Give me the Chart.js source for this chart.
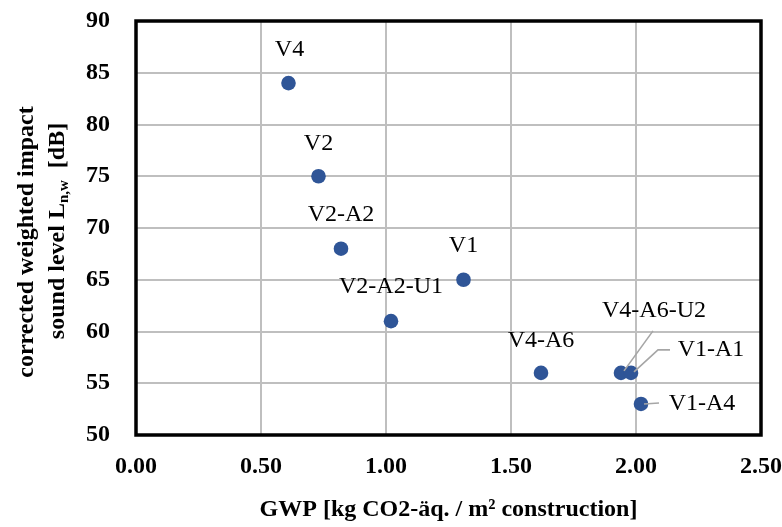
<!DOCTYPE html>
<html>
<head>
<meta charset="utf-8">
<script src="https://cdn.jsdelivr.net/npm/chart.js@4/dist/chart.umd.min.js"></script>
<style>
  html, body { margin: 0; padding: 0; background: #fff; }
  canvas { display: block; }
</style>
</head>
<body>
<canvas id="c" width="782" height="527"></canvas>
<script>
// ---- data ----
const variantNames = ['V4', 'V2', 'V2-A2', 'V2-A2-U1', 'V1', 'V4-A6', 'V4-A6-U2', 'V1-A1', 'V1-A4'];
const gwpValues = [0.61, 0.73, 0.82, 1.02, 1.31, 1.62, 1.94, 1.98, 2.02];
const soundLevels = [84, 75, 68, 61, 65, 56, 56, 56, 53];
const xTickValues = [0, 0.5, 1.0, 1.5, 2.0, 2.5];
const yTickValues = [50, 55, 60, 65, 70, 75, 80, 85, 90];
const xTitle = 'GWP [kg CO2-äq. / m² construction]';
const yTitleLine1 = 'corrected weighted impact';
const yTitleLine2 = ['sound level L', 'n,w', '  [dB]'];

// ---- label styling (offsets in px relative to point, leader lines) ----
const labelStyle = {
  'V4':       { dx: 1,  dy: -33 },
  'V2':       { dx: 0,  dy: -33 },
  'V2-A2':    { dx: 0,  dy: -34 },
  'V2-A2-U1': { dx: 0,  dy: -34 },
  'V1':       { dx: 0,  dy: -34 },
  'V4-A6':    { dx: 0,  dy: -32 },
  'V4-A6-U2': { dx: 33, dy: -62, leader: [[32, -42], [3, -2]] },
  'V1-A1':    { dx: 80, dy: -23, leader: [[39, -23], [27, -23], [3, -1]] },
  'V1-A4':    { dx: 61, dy: 0,   leader: [[18, -1], [3, 0]] }
};

const FONT = '"Liberation Serif", "Times New Roman", serif';

const decorPlugin = {
  id: 'decor',
  afterDatasetsDraw(chart) {
    const ctx = chart.ctx;
    const a = chart.chartArea;
    ctx.save();
    // plot border
    ctx.strokeStyle = '#000';
    ctx.lineWidth = 3.5;
    ctx.strokeRect(a.left, a.top, a.right - a.left, a.bottom - a.top);

    // data labels
    const meta = chart.getDatasetMeta(0);
    ctx.font = '24px ' + FONT;
    ctx.fillStyle = '#000';
    ctx.textAlign = 'center';
    ctx.textBaseline = 'middle';
    meta.data.forEach((pt, i) => {
      const name = variantNames[i];
      const st = labelStyle[name];
      if (st.leader) {
        ctx.strokeStyle = '#a6a6a6';
        ctx.lineWidth = 1.6;
        ctx.beginPath();
        st.leader.forEach((p, k) => {
          const px = pt.x + p[0], py = pt.y + p[1];
          if (k === 0) ctx.moveTo(px, py); else ctx.lineTo(px, py);
        });
        ctx.stroke();
      }
      ctx.fillText(name, pt.x + st.dx, pt.y + st.dy);
    });

    // x title
    ctx.font = 'bold 24px ' + FONT;
    ctx.textAlign = 'center';
    ctx.textBaseline = 'middle';
    ctx.fillText(xTitle, (a.left + a.right) / 2, 510);

    // y title (rotated, two lines, with subscript)
    ctx.save();
    ctx.translate(27, 242);
    ctx.rotate(-Math.PI / 2);
    ctx.textAlign = 'center';
    ctx.fillText(yTitleLine1, 0, 0);
    ctx.restore();

    ctx.save();
    ctx.translate(58, 231);
    ctx.rotate(-Math.PI / 2);
    ctx.textAlign = 'left';
    const bigFont = 'bold 24px ' + FONT;
    const subFont = 'bold 15px ' + FONT;
    ctx.font = bigFont; const w1 = ctx.measureText(yTitleLine2[0]).width;
    ctx.font = subFont; const w2 = ctx.measureText(yTitleLine2[1]).width;
    ctx.font = bigFont; const w3 = ctx.measureText(yTitleLine2[2]).width;
    let x0 = -(w1 + w2 + w3) / 2;
    ctx.font = bigFont; ctx.fillText(yTitleLine2[0], x0, 0); x0 += w1;
    ctx.font = subFont; ctx.fillText(yTitleLine2[1], x0, 6); x0 += w2;
    ctx.font = bigFont; ctx.fillText(yTitleLine2[2], x0, 0);
    ctx.restore();

    ctx.restore();
  }
};

new Chart(document.getElementById('c'), {
  type: 'scatter',
  data: {
    datasets: [{
      data: gwpValues.map((g, i) => ({ x: g, y: soundLevels[i] })),
      backgroundColor: '#2f5597',
      borderColor: '#2f5597',
      pointRadius: 7.3,
      pointHoverRadius: 7.3,
      borderWidth: 0
    }]
  },
  options: {
    responsive: false,
    animation: false,
    devicePixelRatio: 1,
    layout: { padding: { top: 21, right: 21, left: 0, bottom: 0 } },
    plugins: { legend: { display: false }, tooltip: { enabled: false } },
    scales: {
      x: {
        type: 'linear',
        min: 0, max: 2.5,
        afterBuildTicks: (s) => { s.ticks = xTickValues.map(v => ({ value: v })); },
        afterFit: (s) => { s.height = 92; s.paddingLeft = 0; s.paddingRight = 0; },
        grid: { color: '#bfbfbf', lineWidth: 2, drawTicks: false },
        border: { display: false },
        ticks: {
          padding: 17,
          color: '#000',
          font: { family: FONT, size: 24, weight: 'bold' },
          callback: (v) => Number(v).toFixed(2),
          maxRotation: 0
        }
      },
      y: {
        type: 'linear',
        min: 50, max: 90,
        afterBuildTicks: (s) => { s.ticks = yTickValues.map(v => ({ value: v })); },
        afterFit: (s) => { s.width = 136; s.paddingTop = 0; s.paddingBottom = 0; },
        grid: { color: '#bfbfbf', lineWidth: 2, drawTicks: false },
        border: { display: false },
        ticks: {
          padding: 26,
          color: '#000',
          font: { family: FONT, size: 24, weight: 'bold' },
          callback: (v) => String(v)
        }
      }
    }
  },
  plugins: [decorPlugin]
});
</script>
</body>
</html>
